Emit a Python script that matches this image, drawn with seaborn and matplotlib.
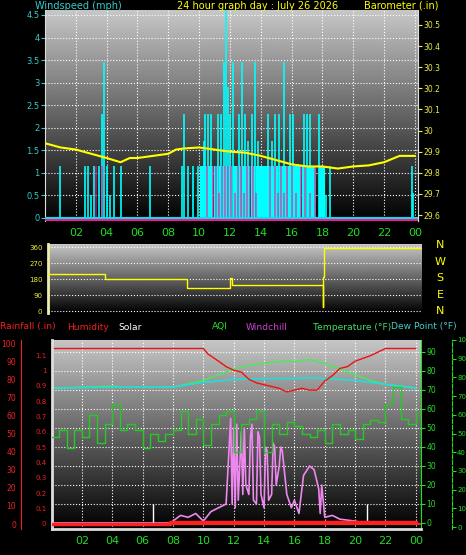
import numpy as np
import matplotlib
matplotlib.use("Agg")
import matplotlib.pyplot as plt
import seaborn as sns
import pandas as pd

sns.set_style("dark")
plt.rcParams['font.family'] = ['DejaVu Sans']

# ---------------- data ----------------
gust_t = [0.95,2.6,2.8,3.0,3.2,3.5,3.7,3.85,4.0,4.2,4.5,4.9,6.8,8.9,9.0,9.3,9.6,9.9,10.1,10.3,10.4,10.6,10.8,
          11.0,11.2,11.4,11.6,11.75,11.9,12.0,12.2,12.4,12.6,12.8,13.0,13.2,13.4,13.6,13.8,14.0,14.2,14.5,14.7,
          14.9,15.2,15.5,15.7,15.9,16.1,16.4,16.8,17.0,17.2,17.5,17.8,18.0,18.2,18.5,23.8,23.9]
gust_v = [1.15,1.15,1.15,0.5,1.15,1.15,2.3,3.45,1.15,0.5,1.15,1.15,1.15,1.15,2.3,1.15,1.15,1.15,1.15,1.7,2.3,2.3,2.3,
          1.15,2.3,2.3,3.45,4.6,2.9,2.3,3.45,1.15,2.3,3.45,2.3,1.7,2.3,3.45,1.7,1.15,1.15,2.3,1.7,
          2.3,2.3,3.45,1.15,2.3,2.3,1.15,2.3,2.3,2.3,1.15,2.3,0.5,0.5,1.15,1.15,0.55]
fill_t = [10.2,10.5,10.8,11.1,11.4,11.7,12.0,12.3,12.6,12.9,13.2,13.5,13.8,14.0,14.1,14.2,14.3,14.4,14.6,14.8,15.0,
          15.3,15.6,15.9,16.2,16.5,16.8,17.1,17.4,17.9,18.05]
fill_v = [1.15]*len(fill_t)
avg_t = [3.3,3.7,10.5,10.9,11.1,11.3,11.5,11.7,11.9,12.1,12.3,12.5,12.7,12.9,13.1,13.3,13.5,13.7,14.6,14.9,15.1,
         15.3,15.5,15.7,16.0,16.3,16.6,16.9,17.2,17.5]
avg_v = [1.15,1.15,1.15,1.15,1.15,0.55,1.15,1.15,1.15,1.15,0.55,1.15,1.15,0.55,1.15,1.15,1.15,0.55,1.15,1.15,0.55,
         1.15,0.55,1.15,1.15,0.55,1.15,1.15,0.55,1.15]
baro_t = [0,0.5,1,2,3,4,4.9,5.5,6,7,8,8.5,9,10,11,12,13,14,15,16,17,18,19,20,21,22,23,24]
baro_v = [29.94,29.93,29.92,29.91,29.89,29.87,29.85,29.87,29.87,29.88,29.89,29.91,29.915,29.92,29.91,29.90,29.895,
          29.88,29.86,29.84,29.83,29.83,29.82,29.83,29.835,29.85,29.88,29.88]

dir_t = [0,3.9,9.2,12.0,12.1,18.0,18.05,18.1,24.45]
dir_v = [207,180,130,185,145,20,190,355,355]

hum_t = [0,10,10.3,11,11.5,12,12.5,13,13.5,14,15,15.5,16,16.5,17,17.5,18,18.5,19,19.5,20,21,21.5,22,24]
hum_v = [97,97,94,90,87,85,84,80,78,77,75,73,74,75,74,74,79,82,86,87,90,93,95,97,97]
temp_t = [0,4,5,8,10,12,13,14,15,16,17,18,19,20,21,22,24]
temp_v = [71,72,71.5,71.5,75,81,83,84,85,85,86,84,81,78,75,73,71]
dew_t = [0,4,8,10,12,14,16,17,18,20,22,24]
dew_v = [71,71.5,71.5,74,75.5,76,76,76.5,76,75,73,71]
aqi_t = list(np.arange(0, 24.5, 0.5))
aqi_v = [48,52,42,52,48,60,45,55,66,52,55,52,42,50,46,50,52,62,50,58,44,55,60,62,40,55,58,62,40,55,50,56,54,50,
         48,52,45,55,50,52,47,55,57,56,66,75,58,55,62]
wc_t = [0,7.8,8,8.5,9,9.5,10,10.5,11,11.5,11.8,11.9,12,12.1,12.2,12.3,12.5,12.6,12.7,12.8,13,13.1,13.2,13.3,13.5,
        13.6,13.7,13.8,14,14.1,14.2,14.3,14.5,14.6,14.7,14.8,15,15.1,15.2,15.5,15.8,16,16.3,16.6,17,17.3,17.6,17.7,
        17.8,18,18.5,19,20,20.5,24]
wc_v = [0,0,1,4,3,5,1,6,8,10,55,10,50,8,52,12,48,15,50,20,15,45,52,12,10,48,45,15,8,40,38,12,15,42,40,20,30,40,
        38,15,8,12,5,25,30,28,18,5,20,3,4,2,1,0,0]
rain_t = [0,7.8,24]
rain_v = [0,0.012,0.012]
solar_t = [6.7,20.8]
hours = [2,4,6,8,10,12,14,16,18,20,22,24]
hour_lbl = ["02","04","06","08","10","12","14","16","18","20","22","00"]

# ---------------- figure ----------------
W, H = 466, 555
fig = plt.figure(figsize=(W/100, H/100), dpi=100, facecolor='black')
def rect(x0, y0, x1, y1):
    return [x0/W, 1-y1/H, (x1-x0)/W, (y1-y0)/H]

grad = np.linspace(0.78, 0.0, 256).reshape(-1, 1)
def bg(ax):
    ax.set_facecolor('black')
    ax.imshow(grad, cmap='gray', vmin=0, vmax=1, aspect='auto', extent=[0,1,0,1],
              transform=ax.transAxes, zorder=0)
    ax.grid(True, color='white', linestyle=':', linewidth=0.8, zorder=1)
    for s in ax.spines.values():
        s.set_visible(False)

def style_y(ax, color, size=5.5):
    ax.tick_params(axis='y', colors=color, labelsize=size, length=3, width=0.8, pad=1)

G = '#22dd22'
# ----- top panel -----
ax1 = fig.add_axes(rect(45, 10, 418, 221))
bg(ax1)
ax1.set_xlim(0, 24.2); ax1.set_ylim(-0.067, 4.61)
ax1.vlines(gust_t, 0, gust_v, color='#00ffff', lw=1.2, zorder=3)
ax1.vlines(fill_t, 0, fill_v, color='#00ffff', lw=3, zorder=3)
ax1.vlines(avg_t, 0, avg_v, color='#ff1493', lw=1.3, alpha=0.6, zorder=4)
ax1.axhline(0, color='#00e5ee', lw=1.5, zorder=4)
ax1.axhline(-0.05, color='#ff1493', lw=1.5, zorder=4)
ax1.set_yticks([0,0.5,1,1.5,2,2.5,3,3.5,4,4.5])
ax1.set_yticklabels(['0','0.5','1','1.5','2','2.5','3','3.5','4','4.5'])
style_y(ax1, '#33cccc', 6)
ax1.set_xticks(hours); ax1.set_xticklabels(hour_lbl)
ax1.tick_params(axis='x', colors=G, labelsize=8, length=3, pad=2)
ax1.spines['left'].set_visible(True); ax1.spines['left'].set_color('#dddddd')
ax1b = ax1.twinx()
ax1b.set_ylim(29.5716, 30.571)
sns.lineplot(x=baro_t, y=baro_v, ax=ax1b, color='yellow', lw=1.5, zorder=5)
ax1b.set_yticks([29.6,29.7,29.8,29.9,30,30.1,30.2,30.3,30.4,30.5])
ax1b.set_yticklabels(['29.6','29.7','29.8','29.9','30','30.1','30.2','30.3','30.4','30.5'])
style_y(ax1b, '#eeee44')
for s in ax1b.spines.values(): s.set_visible(False)
ax1b.spines['right'].set_visible(True); ax1b.spines['right'].set_color('#dddddd')

fig.text(35/W, 1-6/H, 'Windspeed (mph)', color='#33cccc', fontsize=7, va='center')
fig.text(258/W, 1-6/H, '24 hour graph day : July 26 2026', color='yellow', fontsize=7, va='center', ha='center')
fig.text(439/W, 1-6/H, 'Barometer (.in)', color='yellow', fontsize=7, va='center', ha='right')

# ----- middle panel -----
ax2 = fig.add_axes(rect(48, 244, 422, 313))
bg(ax2)
ax2.set_xlim(0.19, 24.45); ax2.set_ylim(-11.25, 376.9)
sns.lineplot(x=dir_t, y=dir_v, ax=ax2, color='yellow', lw=1, drawstyle='steps-post', zorder=5)
ax2.set_yticks([0,90,180,270,360])
style_y(ax2, '#eeee44', 5)
ax2.set_xticks(hours); ax2.set_xticklabels([]); ax2.tick_params(axis='x', length=0)
ax2.grid(axis='x', visible=False)
ax2.spines['left'].set_visible(True); ax2.spines['left'].set_color('#eeeeaa'); ax2.spines['left'].set_linewidth(2)
for i, c in enumerate(['N','W','S','E','N']):
    fig.text(440/W, 1-(245+i*16.5)/H, c, color='yellow', fontsize=8, ha='center', va='center')

# legend row
for x, t, c in [(0,'Rainfall (.in)','#ee2222'),(67,'Humidity','#ee2222'),(118,'Solar','white'),
                (212,'AQI',G),(246,'Windchill','#cc44cc'),(313,'Temperature (°F)','#44dd66'),
                (391,'Dew Point (°F)','#44cccc')]:
    fig.text(x/W, 1-327/H, t, color=c, fontsize=6.6, va='center')

# ----- bottom panel -----
ax3 = fig.add_axes(rect(52, 340, 421, 529))
bg(ax3)
ax3.set_xlim(0.03, 24.34); ax3.set_ylim(-3.16, 96.3)
sns.lineplot(x=temp_t, y=temp_v, ax=ax3, color='#44ee55', lw=1, zorder=5)
sns.lineplot(x=dew_t, y=dew_v, ax=ax3, color='#22dddd', lw=1.2, zorder=6)
sns.lineplot(x=wc_t, y=wc_v, ax=ax3, color='#ee88ee', lw=1.2, zorder=6)
ax3.vlines(solar_t, 0, 10, color='white', lw=1, zorder=6)
ax3.set_yticks([0,10,20,30,40,50,60,70,80,90])
style_y(ax3, G)
ax3.yaxis.tick_right()
ax3.set_xticks(hours); ax3.set_xticklabels(hour_lbl)
ax3.tick_params(axis='x', colors=G, labelsize=8, length=3, pad=2)
ax3.spines['bottom'].set_visible(True); ax3.spines['bottom'].set_color('#dddddd'); ax3.spines['bottom'].set_linewidth(2)
ax3.spines['right'].set_visible(True); ax3.spines['right'].set_color(G)

axh = fig.add_axes(rect(52, 340, 421, 529), sharex=ax3)
axh.patch.set_visible(False)
axh.set_ylim(-2.76, 101.7)
sns.lineplot(x=hum_t, y=hum_v, ax=axh, color='#ee1111', lw=1, zorder=5)
axh.set_yticks(range(0, 101, 10)); style_y(axh, '#ee2222')
axh.spines[['top','right','bottom']].set_visible(False)
axh.spines['left'].set_position(('outward', 22)); axh.spines['left'].set_color('#ee2222')
axh.tick_params(axis='x', bottom=False, labelbottom=False)

axr = fig.add_axes(rect(52, 340, 421, 529), sharex=ax3)
axr.patch.set_visible(False)
axr.set_ylim(-0.033, 1.198)
sns.lineplot(x=rain_t, y=rain_v, ax=axr, color='#ff2020', lw=2.5, drawstyle='steps-post', zorder=5)
axr.axhline(0, color='#ff2020', lw=1.5)
axr.set_yticks([0,0.1,0.2,0.3,0.4,0.5,0.6,0.7,0.8,0.9,1,1.1])
axr.set_yticklabels(['0','0.1','0.2','0.3','0.4','0.5','0.6','0.7','0.8','0.9','1','1.1'])
style_y(axr, '#ee2222', 5)
axr.spines[['top','right','bottom']].set_visible(False)
axr.spines['left'].set_color('#dddddd'); axr.spines['left'].set_linewidth(2)
axr.tick_params(axis='x', bottom=False, labelbottom=False)

axa = fig.add_axes(rect(52, 340, 421, 529), sharex=ax3)
axa.patch.set_visible(False)
axa.set_ylim(-1.06, 99.5)
sns.lineplot(x=aqi_t, y=aqi_v, ax=axa, color='#22cc22', lw=1, drawstyle='steps-post', zorder=4)
axa.yaxis.tick_right()
axa.set_yticks(range(0, 101, 10)); style_y(axa, G, 5)
axa.spines[['top','left','bottom']].set_visible(False)
axa.spines['right'].set_position(('outward', 22)); axa.spines['right'].set_color(G)
axa.spines['right'].set_linestyle('--')
axa.tick_params(axis='x', bottom=False, labelbottom=False)

for a in [ax1, ax1b, ax2, ax3, axh, axr, axa]:
    a.set_xlabel(''); a.set_ylabel('')
    if a.get_legend(): a.get_legend().remove()

fig.savefig('out.png', dpi=100, facecolor='black')
